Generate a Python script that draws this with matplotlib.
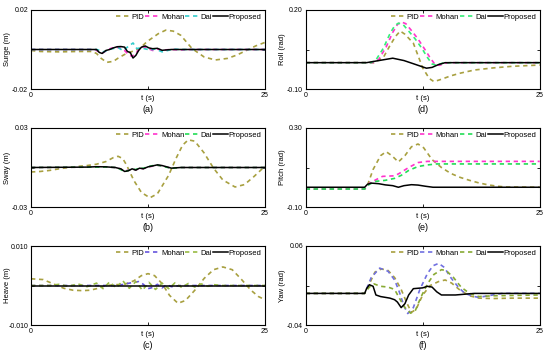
import matplotlib
matplotlib.use("Agg")
import matplotlib.pyplot as plt

plt.rcParams['font.family'] = ['Liberation Sans', 'DejaVu Sans']

names = ["PID", "Mohan", "Dai", "Proposed"]

# ---------------- (a) Surge ----------------
t_a_pid = [0, 1, 3, 5, 6.5, 7, 7.5, 8.1, 8.8, 9.3, 10, 10.8, 11.6, 12.4, 13.6, 14.4, 15.2, 16, 17.2, 18.5, 19.7, 21, 22, 23, 24, 25]
a_pid = [-0.0005, -0.001, -0.0012, -0.001, -0.001, -0.002, -0.0045, -0.0065, -0.006, -0.0044, -0.0025, -0.001, 0.0005, 0.004, 0.008, 0.0098, 0.0093, 0.0072, 0.0005, -0.0038, -0.0053, -0.0045, -0.0028, -0.0005, 0.0018, 0.0036]
t_a_mohan = [0, 6.8, 7.2, 7.6, 8, 8.5, 9, 9.5, 10, 10.4, 10.8, 11.2, 11.6, 12, 12.5, 13, 13.5, 14, 15, 16, 17, 25]
a_mohan = [0, 0, -0.001, -0.0018, -0.0008, 0.0005, 0.0012, 0.0008, -0.0005, -0.0025, -0.0035, -0.002, 0.0005, 0.0015, 0.0005, -0.0005, 0.0002, -0.0003, 0, -0.0002, 0, 0]
t_a_dai = [0, 7, 7.4, 7.8, 8.3, 8.8, 9.3, 9.8, 10.3, 10.9, 11.3, 11.8, 12.3, 12.8, 13.3, 14, 14.6, 15.2, 16, 25]
a_dai = [0, 0, -0.0005, -0.0012, 0, 0.0005, 0.001, -0.0005, 0.0012, 0.0033, 0.0005, 0.0008, 0.0002, -0.0002, 0.0003, -0.0012, -0.0005, 0.0002, 0, 0]
t_a_prop = [0, 7, 7.3, 7.6, 8, 8.4, 8.8, 9.2, 9.6, 10, 10.3, 10.6, 10.9, 11.2, 11.5, 11.8, 12.2, 12.6, 13, 13.5, 14, 14.5, 15, 16, 25]
a_prop = [0, 0, -0.0015, -0.002, -0.0005, 0, 0.0008, 0.0014, 0.0015, 0.0012, -0.001, -0.0015, -0.0043, -0.003, -0.0005, 0.0012, 0.0018, 0.0008, 0.0004, 0.0006, -0.0004, -0.0002, 0, 0, 0]

# ---------------- (b) Sway ----------------
t_b_pid = [0, 1, 2, 3, 4, 5, 6, 7, 8, 8.8, 9.3, 9.8, 10.2, 11, 11.8, 12.7, 13.5, 14.7, 15.5, 16.2, 16.8, 17.5, 18.5, 19.5, 20.5, 21.8, 22.8, 23.8, 25]
b_pid = [-0.0034, -0.003, -0.0022, -0.001, 0, 0.0008, 0.0015, 0.0025, 0.0045, 0.0075, 0.0085, 0.0068, 0.002, -0.01, -0.019, -0.023, -0.02, -0.006, 0.007, 0.017, 0.021, 0.02, 0.011, -0.0005, -0.0095, -0.0148, -0.013, -0.007, 0.001]
t_b_mohan = [0, 7, 8, 9, 9.5, 10, 10.4, 10.8, 11.2, 11.6, 12, 12.5, 13, 13.5, 14, 14.5, 15, 16, 25]
b_mohan = [0, 0.0003, 0.0004, 0, -0.001, -0.0028, -0.002, -0.0012, -0.0018, -0.0006, -0.0008, 0.0004, 0.001, 0.0016, 0.0012, 0.0003, -0.0005, 0, 0]
t_b_dai = [0, 7, 8, 9, 9.5, 10, 10.4, 10.8, 11.2, 11.6, 12, 12.5, 13, 13.5, 14, 14.5, 15, 16, 25]
b_dai = [0, 0.0003, 0.0004, 0, -0.0012, -0.0032, -0.0022, -0.0014, -0.0015, -0.0004, -0.0006, 0.0006, 0.0014, 0.0018, 0.001, 0.0002, -0.0006, 0, 0]
t_b_prop = [0, 6, 7, 8, 9, 9.6, 10, 10.4, 10.8, 11.2, 11.6, 12, 12.5, 13, 13.5, 14, 14.5, 15, 16, 25]
b_prop = [0, 0.0003, 0.0006, 0.0005, 0, -0.001, -0.003, -0.0025, -0.001, -0.002, -0.0005, -0.001, 0.0005, 0.0012, 0.002, 0.0015, 0.0005, -0.0005, 0, 0]

# ---------------- (c) Heave ----------------
t_c_pid = [0, 1.3, 2.5, 3.5, 4.5, 5.5, 6.3, 7.2, 8, 9, 10, 11, 11.8, 12.5, 13.2, 14, 14.8, 15.7, 16.5, 17.5, 18.5, 19.5, 20.5, 21.5, 22.5, 23.5, 24.3, 25]
c_pid = [0.0017, 0.0015, 0.0003, -0.0007, -0.0012, -0.0013, -0.0012, -0.0007, 0, 0.0002, 0.0003, 0.0012, 0.0025, 0.003, 0.0025, 0.0005, -0.0025, -0.0045, -0.0038, -0.0012, 0.0018, 0.004, 0.0047, 0.004, 0.0015, -0.0012, -0.0028, -0.0036]
t_c_mohan = [0, 9, 10, 10.5, 11, 11.5, 12, 12.5, 13, 13.5, 14, 14.5, 15, 16, 25]
c_mohan = [0, 0, 0.0003, 0.0006, 0.0008, 0.001, 0.0003, -0.0008, -0.0005, 0.0003, -0.0006, 0.0002, -0.0003, 0, 0]
t_c_dai = [0, 2, 3, 4, 5, 6, 7, 7.7, 8.4, 9.1, 9.8, 10.5, 11.2, 11.9, 12.6, 13.3, 14, 14.7, 15.4, 16.1, 16.8, 17.5, 18.2, 18.9, 19.6, 20.3, 21, 25]
c_dai = [0, 0, 0.0003, -0.0002, 0.0004, -0.0003, 0.0006, -0.0008, 0.0009, -0.0006, 0.0012, -0.0007, 0.001, -0.0012, 0.0008, -0.001, 0.0006, -0.0008, 0.0007, -0.0005, 0.0005, -0.0004, 0.0004, -0.0002, 0.0002, 0, 0, 0]
t_c_prop = [0, 25]
c_prop = [0, 0]

# ---------------- (d) Roll ----------------
t_d_pid = [0, 7.3, 8.3, 9, 9.6, 10.1, 10.6, 11.5, 12.5, 13.2, 13.7, 14.5, 15.5, 16.5, 18, 20, 22, 25]
d_pid = [0, 0, 0.02, 0.065, 0.1, 0.12, 0.108, 0.074, -0.02, -0.06, -0.072, -0.063, -0.05, -0.04, -0.028, -0.02, -0.014, -0.009]
t_d_mohan = [0, 7.2, 7.8, 8.6, 9.3, 9.8, 10.2, 10.7, 11.3, 12, 12.7, 13.3, 13.8, 14.3, 14.9, 15.8, 25]
d_mohan = [0, 0, 0.012, 0.06, 0.115, 0.145, 0.155, 0.148, 0.122, 0.09, 0.052, 0.018, -0.006, -0.01, -0.002, 0, 0]
t_d_dai = [0, 7, 7.5, 8.3, 9, 9.5, 9.9, 10.4, 11, 11.7, 12.4, 13, 13.5, 14, 14.6, 15.5, 25]
d_dai = [0, 0, 0.01, 0.055, 0.11, 0.14, 0.15, 0.145, 0.12, 0.09, 0.055, 0.02, -0.005, -0.01, -0.002, 0, 0]
t_d_prop = [0, 6.5, 9.3, 10.5, 11.5, 12.9, 13.5, 14.2, 14.9, 25]
d_prop = [0, 0, 0.017, 0.008, -0.004, -0.021, -0.018, -0.007, 0, 0]

# ---------------- (e) Pitch ----------------
t_e_pid = [0, 6.3, 6.6, 7.2, 8, 8.6, 9.2, 9.9, 10.6, 11.3, 12, 12.6, 13.5, 14.5, 15.5, 16.5, 17.5, 18.5, 19.5, 20.5, 21.5, 25]
e_pid = [-0.009, -0.009, 0.01, 0.09, 0.16, 0.18, 0.16, 0.128, 0.16, 0.205, 0.219, 0.2, 0.14, 0.1, 0.07, 0.05, 0.035, 0.022, 0.012, 0.005, 0.001, 0]
t_e_mohan = [0, 6.3, 6.8, 7.5, 8.2, 9.5, 10, 11, 12, 13, 25]
e_mohan = [-0.009, -0.009, 0.02, 0.038, 0.055, 0.058, 0.07, 0.1, 0.125, 0.131, 0.131]
t_e_dai = [0, 6.3, 6.8, 7.5, 8.5, 9.5, 10.2, 11, 12, 13, 14, 25]
e_dai = [-0.009, -0.009, 0.015, 0.03, 0.035, 0.045, 0.06, 0.085, 0.105, 0.113, 0.118, 0.118]
t_e_prop = [0, 6.3, 6.6, 7, 7.8, 8.5, 9.3, 9.9, 10.5, 11.3, 12, 12.8, 13.6, 25]
e_prop = [0, 0, 0.015, 0.021, 0.018, 0.012, 0.008, 0.0, 0.008, 0.013, 0.011, 0.005, 0, 0]

# ---------------- (f) Yaw ----------------
t_f_pid = [0, 6.3, 6.8, 7.4, 8.1, 8.8, 9.5, 10.2, 10.8, 11.3, 11.8, 12.5, 13.3, 14.2, 14.9, 15.6, 16.5, 17.5, 18.5, 20, 22, 25]
f_pid = [0, 0, 0.012, 0.027, 0.031, 0.029, 0.02, 0.005, -0.012, -0.024, -0.02, -0.002, 0.01, 0.015, 0.017, 0.013, 0.004, -0.003, -0.006, -0.0065, -0.006, -0.006]
t_f_mohan = [0, 6.3, 7, 7.9, 8.8, 9.5, 10, 10.5, 10.9, 11.5, 12.2, 13, 13.6, 14.2, 14.8, 15.5, 16.3, 17, 18, 18.5, 19.5, 21, 25]
f_mohan = [0, 0, 0.02, 0.032, 0.028, 0.017, 0.002, -0.016, -0.0255, -0.018, 0.005, 0.025, 0.035, 0.038, 0.033, 0.02, 0.008, 0.0, -0.004, -0.005, -0.003, 0, 0]
t_f_dai = [0, 6.3, 6.8, 7.3, 8, 8.8, 9.5, 10, 10.6, 11.2, 11.7, 12.3, 13, 13.7, 14.5, 15, 15.8, 16.6, 17.5, 18.5, 20, 25]
f_dai = [0, 0, 0.008, 0.012, 0.009, 0.008, 0.005, -0.006, -0.018, -0.025, -0.022, -0.005, 0.012, 0.024, 0.03, 0.029, 0.02, 0.008, 0.0, -0.004, -0.003, -0.002]
t_f_prop = [0, 6.3, 6.5, 6.8, 7.2, 7.5, 8, 8.5, 9, 9.5, 9.8, 10.2, 10.6, 11, 11.5, 12, 12.5, 13, 13.5, 14, 14.5, 15, 16, 17, 18, 25]
f_prop = [0, 0, 0.006, 0.011, 0.009, -0.002, -0.004, -0.005, -0.006, -0.008, -0.011, -0.018, -0.013, -0.002, 0.006, 0.0065, 0.007, 0.009, 0.008, 0.002, -0.002, -0.002, -0.002, -0.001, 0, 0]

ylabels = ["Surge (m)", "Sway (m)", "Heave (m)", "Roll (rad)", "Pitch (rad)", "Yaw (rad)"]
letters = ["(a)", "(b)", "(c)", "(d)", "(e)", "(f)"]
ylims = [(-0.02, 0.02), (-0.03, 0.03), (-0.010, 0.010), (-0.10, 0.20), (-0.10, 0.30), (-0.04, 0.06)]
ymids = [0.0, 0.0, 0.0, 0.05, 0.10, 0.01]
ytick_labels = [("-0.02", "0.02"), ("-0.03", "0.03"), ("-0.010", "0.010"),
                ("-0.10", "0.20"), ("-0.10", "0.30"), ("-0.04", "0.06")]

panels = [
    [(t_a_pid, a_pid), (t_a_mohan, a_mohan), (t_a_dai, a_dai), (t_a_prop, a_prop)],
    [(t_b_pid, b_pid), (t_b_mohan, b_mohan), (t_b_dai, b_dai), (t_b_prop, b_prop)],
    [(t_c_pid, c_pid), (t_c_mohan, c_mohan), (t_c_dai, c_dai), (t_c_prop, c_prop)],
    [(t_d_pid, d_pid), (t_d_mohan, d_mohan), (t_d_dai, d_dai), (t_d_prop, d_prop)],
    [(t_e_pid, e_pid), (t_e_mohan, e_mohan), (t_e_dai, e_dai), (t_e_prop, e_prop)],
    [(t_f_pid, f_pid), (t_f_mohan, f_mohan), (t_f_dai, f_dai), (t_f_prop, f_prop)],
]

pid_c = "#a8a040"
colors = [
    [pid_c, "#ff33cc", "#33cccc", "black"],
    [pid_c, "#ff33cc", "#22dd55", "black"],
    [pid_c, "#6655dd", "#99bb44", "black"],
    [pid_c, "#ff33cc", "#33ee77", "black"],
    [pid_c, "#ff33cc", "#22dd55", "black"],
    [pid_c, "#7070e0", "#88aa33", "black"],
]

W, H = 550, 354
fig = plt.figure(figsize=(W / 100, H / 100), dpi=100)
lefts = [31, 305.7]
tops = [10, 128, 246]
aw, ah = 234, 79

for i in range(6):
    col, row = i // 3, i % 3
    ax = fig.add_axes([lefts[col] / W, (H - tops[row] - ah) / H, aw / W, ah / H])
    for j, (tt, vv) in enumerate(panels[i]):
        if j == 3:
            ax.plot(tt, vv, color=colors[i][j], lw=1.1, label=names[j])
        else:
            ax.plot(tt, vv, color=colors[i][j], lw=1.2, dashes=(2.6, 2.2), label=names[j])
    lo, hi = ylims[i]
    ax.set_xlim(0, 25)
    ax.set_ylim(lo, hi)
    ax.set_xticks([0, 12.5, 25])
    ax.set_xticklabels(["0", "", "25"])
    ax.set_yticks([lo, ymids[i], hi])
    ax.set_yticklabels([ytick_labels[i][0], "", ytick_labels[i][1]])
    ax.tick_params(direction="in", length=2, width=0.6, labelsize=5, pad=2,
                   top=True, right=True)
    for s in ax.spines.values():
        s.set_linewidth(0.8)
    ax.set_xlabel("t (s)", fontsize=5.5, labelpad=-3)
    ax.set_ylabel(ylabels[i], fontsize=5.5)
    ax.yaxis.set_label_coords(-0.085, 0.5)
    ax.legend(loc="upper right", ncol=4, frameon=False, fontsize=5.5,
              handlelength=2.0, handletextpad=0.05, columnspacing=0.1,
              borderaxespad=0.2, borderpad=0.25)
    fig.text((lefts[col] + aw / 2) / W, (H - tops[row] - ah - 20) / H, letters[i],
             ha="center", va="center", fontsize=6.5)

fig.savefig("out.png", dpi=100)
